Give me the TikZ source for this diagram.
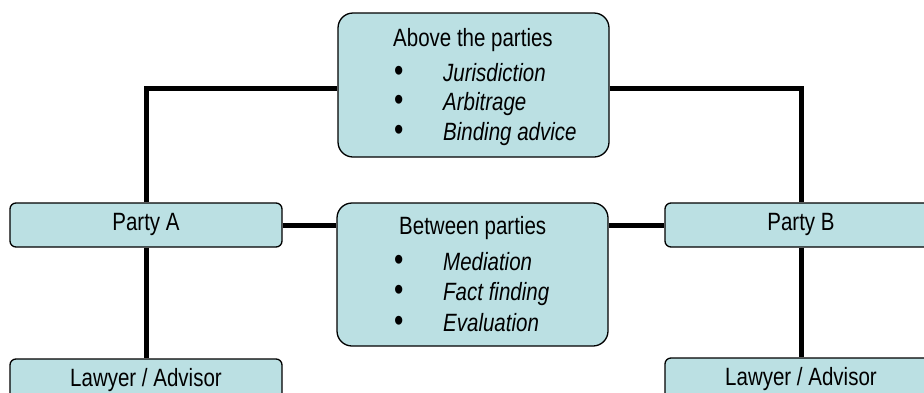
\documentclass[tikz,border=0pt]{standalone}
\usepackage{fontspec}
\setmainfont{Liberation Sans}[FakeStretch=0.82]
\usetikzlibrary{backgrounds}
\definecolor{boxfill}{RGB}{187,224,227}
\tikzset{
  box/.style={draw=black, line width=1.3pt, fill=boxfill, inner sep=0pt},
  bigbox/.style={box, rounded corners=15pt, minimum width=271pt},
  smallbox/.style={box, rounded corners=6pt, minimum width=272pt, minimum height=44pt,
     text height=16pt, text depth=6pt, font=\fontsize{25}{29}\selectfont},
  conn/.style={line width=5pt, line join=miter},
  txt/.style={anchor=base west, inner sep=0pt, font=\fontsize{25}{29}\selectfont},
}
\newcommand{\bul}[1]{\makebox[48pt][l]{\hspace{-1pt}\scalebox{1.3}{•}}\textit{#1}}
\begin{document}
\begin{tikzpicture}[x=1pt,y=-1pt]
\useasboundingbox (0,0) rectangle (924,392);
% boxes
\node[bigbox, minimum height=144pt] (top) at (473.5,85) {};
\node[bigbox, minimum height=143pt] (mid) at (472.5,274.5) {};
\node[smallbox] (pa) at (146,225) {Party A};
\node[smallbox] (pb) at (801,225) {Party B};
\node[smallbox] (la) at (146,381) {Lawyer / Advisor};
\node[smallbox] (lb) at (801,380) {Lawyer / Advisor};
% texts
\node[txt] (t0) at (393,46) {Above the parties};
\node[txt] (t1) at (395,81) {\bul{Jurisdiction}};
\node[txt] (t2) at (395,110.5) {\bul{Arbitrage}};
\node[txt] (t3) at (395,140) {\bul{Binding advice}};
\node[txt] (m0) at (399,234) {Between parties};
\node[txt] (m1) at (395,270) {\bul{Mediation}};
\node[txt] (m2) at (395,300.5) {\bul{Fact finding}};
\node[txt] (m3) at (395,331) {\bul{Evaluation}};
% connectors
\begin{pgfonlayer}{background}
\draw[conn] (pa.north) |- ([yshift=-3.5pt]top.west);
\draw[conn] ([yshift=-3.5pt]top.east) -| (pb.north);
\draw[conn] (pa.east) -- (pa.east -| mid.west);
\draw[conn] (mid.east |- pb.west) -- (pb.west);
\draw[conn] (pa.south) -- (la.north);
\draw[conn] (pb.south) -- (lb.north);
\end{pgfonlayer}
\end{tikzpicture}
\end{document}
